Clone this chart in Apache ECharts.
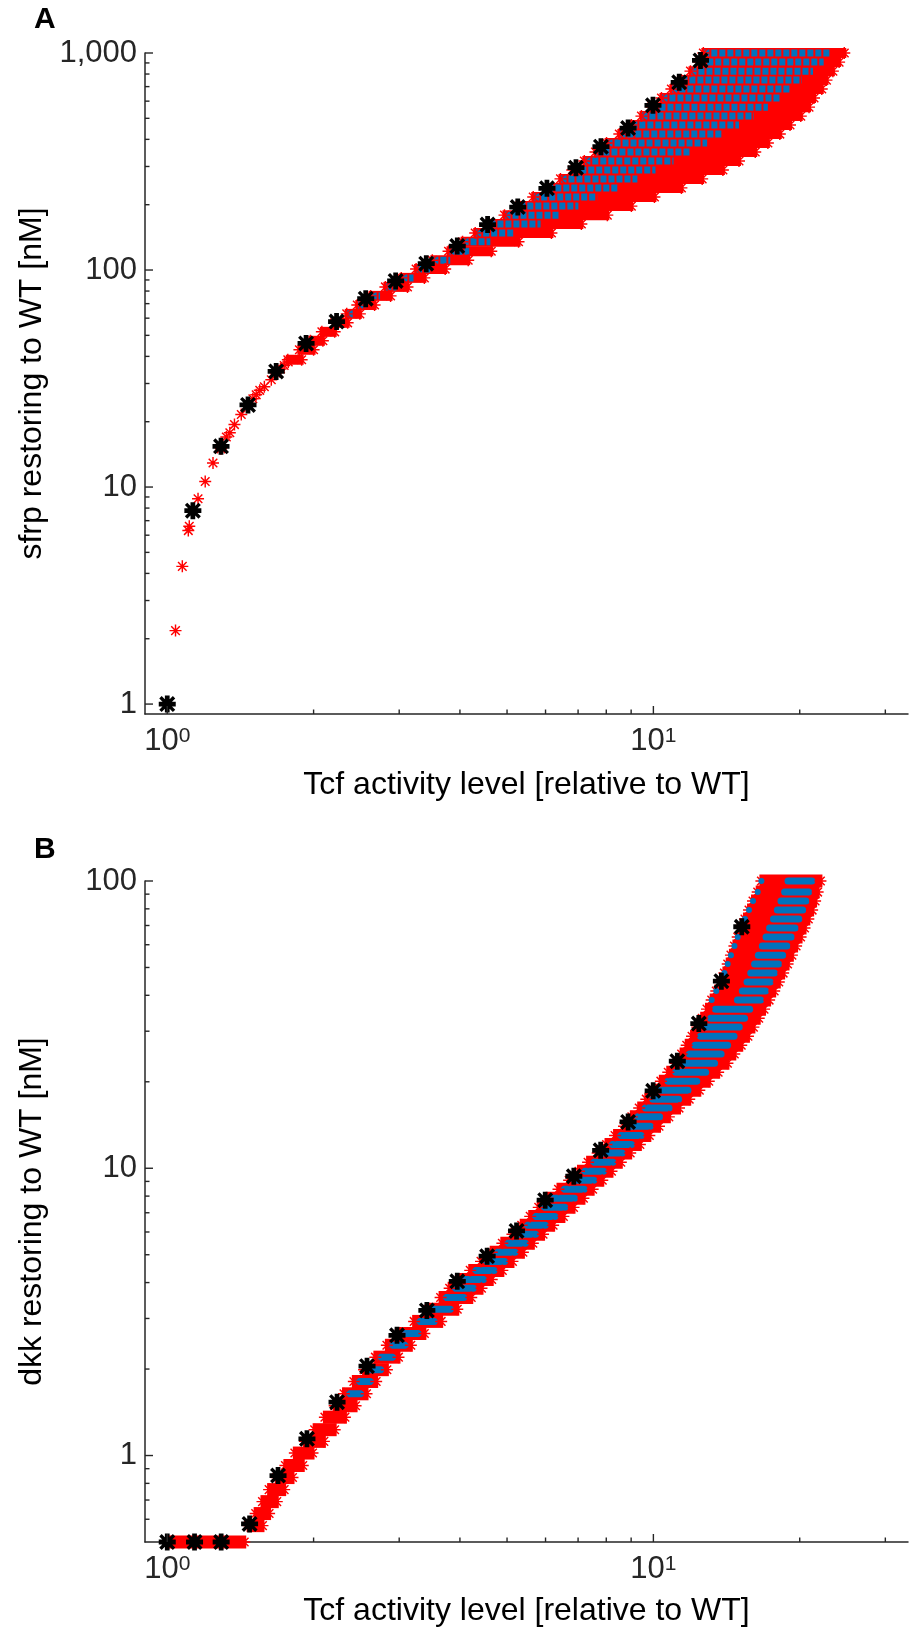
<!DOCTYPE html>
<html><head><meta charset="utf-8">
<script src="https://cdn.jsdelivr.net/npm/echarts@6/dist/echarts.min.js"></script>
<style>html,body{margin:0;padding:0;background:#fff}#c{width:911px;height:1633px}</style>
</head><body><div id="c"></div>
<script>
// ---------------- Panel A (sfrp) ----------------
const aBlackX = [1.0, 1.129, 1.29, 1.466, 1.675, 1.93, 2.23, 2.56, 2.95, 3.41, 3.95, 4.56, 5.26, 6.04, 6.93, 7.80, 8.87, 9.98, 11.3, 12.5];
const aBlackY = [1.0, 7.78, 15.4, 23.9, 34.1, 45.9, 57.9, 73.8, 89.1, 107, 129, 162, 195, 238, 296, 370, 451, 574, 733, 924];
const aLowX = [1.04, 1.074, 1.105, 1.11, 1.157, 1.197, 1.242, 1.29, 1.323, 1.345, 1.375, 1.42, 1.466, 1.50, 1.524, 1.55, 1.584, 1.637, 1.675, 1.71, 1.74, 1.774];
const aLowY = [2.18, 4.31, 6.3, 6.6, 8.83, 10.6, 12.9, 15.0, 17.0, 17.8, 19.4, 21.6, 24.2, 25.5, 26.6, 27.9, 29.0, 31.2, 33.5, 35.0, 36.3, 37.7];
const aRowY = [1000, 908, 825, 750, 682, 620, 563, 512, 466, 423, 385, 350, 318, 289, 263, 239, 217, 197, 179, 163, 148, 135, 122, 111, 101, 92, 83.6, 76, 69, 62.8, 57.1, 51.9, 47.2, 42.9, 38.6];
const aRowLeft = [12.67, 12.43, 11.92, 11.42, 10.89, 10.39, 9.91, 9.45, 9.01, 8.51, 8.01, 7.60, 7.21, 6.81, 6.44, 6.05, 5.66, 5.30, 4.94, 4.60, 4.30, 4.05, 3.79, 3.51, 3.25, 3.03, 2.81, 2.62, 2.46, 2.34, 2.21, 2.08, 1.97, 1.87, 1.77];
const aRowRight = [24.7, 24.1, 23.4, 22.7, 22.2, 21.4, 20.9, 20.1, 19.1, 18.2, 17.2, 16.2, 15.0, 13.9, 12.6, 11.42, 10.05, 9.01, 8.04, 7.11, 6.17, 5.28, 4.64, 4.16, 3.73, 3.38, 3.12, 2.88, 2.67, 2.49, 2.35, 2.21, 2.09, 2.00, 1.89];
const aRowBlueEnd = [23.2, 22.4, 21.3, 20.2, 19.2, 18.2, 17.2, 16.1, 15.0, 13.9, 12.9, 11.97, 11.0, 10.1, 9.27, 8.47, 7.67, 7.01, 6.41, 5.86, 5.15, 4.62, 4.18, 3.82, 3.49, 3.21, 2.96, 2.74, 2.56, 2.41, null, null, null, null, null];

// ---------------- Panel B (dkk) ----------------
const bBlackX = [1.0, 1.138, 1.291, 1.477, 1.69, 1.938, 2.235, 2.576, 2.969, 3.42, 3.95, 4.55, 5.23, 5.99, 6.86, 7.79, 8.87, 9.99, 11.2, 12.4, 13.8, 15.2];
const bBlackY = [0.5, 0.5, 0.5, 0.578, 0.852, 1.143, 1.534, 2.047, 2.62, 3.20, 4.04, 4.94, 6.05, 7.74, 9.38, 11.55, 14.5, 18.6, 23.6, 31.9, 44.8, 69.3];
const bRowY = [100, 91.5, 85.2, 79.2, 73.7, 68.6, 63.8, 59.4, 55.2, 51.4, 47.8, 44.5, 41.4, 38.5, 35.8, 33.3, 31.0, 28.8, 26.8, 25.0, 23.2, 21.6, 20.1, 18.7, 17.4, 16.2, 15.1, 14.0, 13.0, 12.1, 11.3, 10.5, 9.76, 9.08, 8.45, 7.86, 7.31, 6.80, 6.33, 5.89, 5.48, 5.10, 4.74, 4.41, 4.10, 3.82, 3.55, 3.23, 2.93, 2.66, 2.42, 2.20, 1.99, 1.81, 1.64, 1.49, 1.36, 1.23, 1.12, 1.02, 0.923, 0.838, 0.761, 0.691, 0.628, 0.570, 0.5];
const bRowLeft = [16.68, 16.39, 16.03, 15.73, 15.43, 15.14, 14.91, 14.68, 14.44, 14.22, 14.00, 13.77, 13.47, 13.18, 12.89, 12.60, 12.31, 12.01, 11.71, 11.43, 11.12, 10.73, 10.36, 10.00, 9.67, 9.35, 9.03, 8.70, 8.34, 8.01, 7.68, 7.34, 7.03, 6.71, 6.38, 6.06, 5.81, 5.58, 5.36, 5.13, 4.89, 4.65, 4.42, 4.20, 3.99, 3.81, 3.65, 3.44, 3.22, 3.00, 2.83, 2.68, 2.54, 2.42, 2.31, 2.21, 2.11, 2.01, 1.92, 1.83, 1.75, 1.68, 1.62, 1.57, 1.52, 1.47, 1.00];
const bRowRight = [22.06, 21.77, 21.51, 21.21, 20.83, 20.46, 20.08, 19.66, 19.27, 18.88, 18.49, 18.11, 17.72, 17.30, 16.89, 16.47, 16.06, 15.65, 15.16, 14.67, 14.20, 13.59, 13.00, 12.43, 11.85, 11.29, 10.76, 10.27, 9.81, 9.38, 8.96, 8.57, 8.20, 7.85, 7.50, 7.18, 6.85, 6.53, 6.22, 5.93, 5.65, 5.39, 5.13, 4.89, 4.65, 4.43, 4.22, 3.95, 3.66, 3.38, 3.17, 2.99, 2.83, 2.69, 2.57, 2.44, 2.32, 2.21, 2.10, 1.99, 1.90, 1.81, 1.74, 1.68, 1.62, 1.57, 1.44];
const bBlueStart = [18.92, 18.62, 18.30, 17.99, 17.66, 17.34, 17.05, 16.75, 16.44, 16.15, 15.86, 15.58, 15.24, 14.89, 13.42, 13.12, 12.81, 12.50, 12.18, 11.86, 11.53, 11.12, 10.72, 10.34, 9.97, 9.61, 9.27, 8.92, 8.55, 8.20, 7.86, 7.51, 7.19, 6.87, 6.54, 6.22, 5.96, 5.71, 5.48, 5.25, 4.99, 4.75, 4.52, 4.30, 4.08, 3.90, 3.73, 3.51, 3.28, 3.06, 2.88, 2.73, 2.58, 2.46, 2.35, null, null, null, null, null, null, null, null, null, null, null, null];
const bBlueEnd = [21.17, 20.86, 20.59, 20.28, 19.92, 19.56, 19.20, 18.82, 18.45, 18.09, 17.73, 17.38, 17.00, 16.61, 15.78, 15.40, 15.02, 14.65, 14.21, 13.78, 13.36, 12.81, 12.28, 11.78, 11.27, 10.77, 10.30, 9.85, 9.43, 9.01, 8.62, 8.25, 7.89, 7.54, 7.20, 6.88, 6.57, 6.27, 5.99, 5.72, 5.45, 5.19, 4.94, 4.70, 4.47, 4.26, 4.07, 3.82, 3.54, 3.28, 3.09, 2.91, 2.75, 2.62, 2.50, null, null, null, null, null, null, null, null, null, null, null, null];

// ---------------- Axis ticks ----------------
const xMajorTicks = [1, 10];
const xMinorTicks = [2, 3, 4, 5, 6, 7, 8, 9, 20, 30];
const aYMajorTicks = [1, 10, 100, 1000];
const aYMinorTicks = [2, 3, 4, 5, 6, 7, 8, 9, 20, 30, 40, 50, 60, 70, 80, 90, 200, 300, 400, 500, 600, 700, 800, 900];
const bYMajorTicks = [1, 10, 100];
const bYMinorTicks = [0.6, 0.7, 0.8, 0.9, 2, 3, 4, 5, 6, 7, 8, 9, 20, 30, 40, 50, 60, 70, 80, 90];

const FONT = '"Liberation Sans", Arial, Helvetica, sans-serif';
const AX = '#262626';
const RED = '#ff0000';
const BLUE = '#0072bd';
const STAR = 'path://M4.4,0L5.6,0L5.6,10L4.4,10Z M0,4.4L10,4.4L10,5.6L0,5.6Z M1,1.85L1.85,1L9,8.15L8.15,9Z M8.15,1L9,1.85L1.85,9L1,8.15Z';
const BSTAR = 'path://M3.6,0L6.4,0L6.4,10L3.6,10Z M0,3.6L10,3.6L10,6.4L0,6.4Z M0.3,1.7L1.7,0.3L9.7,8.3L8.3,9.7Z M8.3,0.3L9.7,1.7L1.7,9.7L0.3,8.3Z';

function isDecade(v) { const l = Math.log10(v); return Math.abs(l - Math.round(l)) < 1e-6; }
function yFmt(v) { if (!isDecade(v)) return ''; return Math.round(v).toString().replace(/\B(?=(\d{3})+(?!\d))/g, ','); }
function xFmt(v) { if (!isDecade(v)) return ''; return '{b|10}{s|' + Math.round(Math.log10(v)) + '}'; }

function xAxisDef(g) {
  return {
    gridIndex: g, type: 'log', logBase: 10, min: 0.9, max: 33.4,
    axisLine: { show: true, onZero: false, lineStyle: { color: AX, width: 1.5 } },
    axisTick: { show: false }, minorTick: { show: false }, splitLine: { show: false }, minorSplitLine: { show: false },
    axisLabel: {
      margin: 12, formatter: xFmt, color: AX,
      rich: { b: { fontSize: 31, fontFamily: FONT, color: AX }, s: { fontSize: 21, fontFamily: FONT, color: AX, verticalAlign: 'top' } }
    },
    name: 'Tcf activity level [relative to WT]', nameLocation: 'middle', nameGap: g === 0 ? 55 : 53,
    nameMoveOverlap: false,
    nameTextStyle: { fontFamily: FONT, fontSize: 32, color: '#000' }
  };
}
function yAxisDef(g, min, max, name) {
  return {
    gridIndex: g, type: 'log', logBase: 10, min: min, max: max,
    axisLine: { show: true, onZero: false, lineStyle: { color: AX, width: 1.5 } },
    axisTick: { show: false }, minorTick: { show: false }, splitLine: { show: false }, minorSplitLine: { show: false },
    axisLabel: { margin: 8, formatter: yFmt, fontSize: 31, fontFamily: FONT, color: AX },
    name: name, nameLocation: 'middle', nameGap: 97, nameMoveOverlap: false,
    nameTextStyle: { fontFamily: FONT, fontSize: 32, color: '#000' }
  };
}

function xTicks(g, vals, len) {
  return {
    type: 'custom', xAxisIndex: g, yAxisIndex: g, silent: true, z: 20, clip: false,
    data: vals.map(v => [v, 1]),
    renderItem: (p, api) => {
      const cs = p.coordSys; const x = api.coord([api.value(0), 1])[0]; const yb = cs.y + cs.height;
      return { type: 'line', shape: { x1: x, y1: yb, x2: x, y2: yb - len }, style: { stroke: AX, lineWidth: 1.4 } };
    }
  };
}
function yTicks(g, vals, len) {
  return {
    type: 'custom', xAxisIndex: g, yAxisIndex: g, silent: true, z: 20, clip: false,
    data: vals.map(v => [1, v]),
    renderItem: (p, api) => {
      const cs = p.coordSys; const y = api.coord([1, api.value(1)])[1]; const xl = cs.x;
      return { type: 'line', shape: { x1: xl, y1: y, x2: xl + len, y2: y }, style: { stroke: AX, lineWidth: 1.4 } };
    }
  };
}
function redRows(g, ys, lefts, rights, h) {
  return {
    type: 'custom', xAxisIndex: g, yAxisIndex: g, silent: true, z: 2, clip: false,
    data: ys.map((y, i) => [lefts[i], y, rights[i]]),
    encode: { x: [0, 2], y: 1 },
    renderItem: (p, api) => {
      const a = api.coord([api.value(0), api.value(1)]); const b = api.coord([api.value(2), api.value(1)]);
      return { type: 'rect', shape: { x: a[0] - 2, y: a[1] - h / 2, width: b[0] - a[0] + 4, height: h }, style: { fill: RED } };
    }
  };
}
function blueRows(g, ys, starts, ends, w, dash) {
  const d = [];
  ys.forEach((y, i) => { if (starts[i] != null && ends[i] != null) d.push([starts[i], y, ends[i]]); });
  return {
    type: 'custom', xAxisIndex: g, yAxisIndex: g, silent: true, z: 3, clip: false,
    data: d, encode: { x: [0, 2], y: 1 },
    renderItem: (p, api) => {
      const a = api.coord([api.value(0), api.value(1)]); const b = api.coord([api.value(2), api.value(1)]);
      return { type: 'line', shape: { x1: a[0], y1: a[1], x2: b[0], y2: b[1] }, style: { stroke: BLUE, lineWidth: w, lineDash: dash, lineCap: dash ? 'butt' : 'round' } };
    }
  };
}
function scatter(g, data, symbol, size, color, z) {
  return { type: 'scatter', xAxisIndex: g, yAxisIndex: g, data: data, symbol: symbol, symbolSize: size, itemStyle: { color: color, opacity: 1 }, z: z, silent: true, clip: false };
}
function rowEnds(ys, lefts, rights) {
  const d = [];
  ys.forEach((y, i) => { d.push([lefts[i], y]); d.push([rights[i], y]); });
  return d;
}

const chart = echarts.init(document.getElementById('c'), null, { renderer: 'canvas' });
chart.setOption({
  animation: false,
  backgroundColor: '#fff',
  textStyle: { fontFamily: FONT },
  grid: [
    { left: 145, top: 53, width: 763, height: 661, outerBoundsMode: 'none', containLabel: false },
    { left: 145, top: 881, width: 763, height: 661, outerBoundsMode: 'none', containLabel: false }
  ],
  xAxis: [xAxisDef(0), xAxisDef(1)],
  yAxis: [yAxisDef(0, 0.9, 1000, 'sfrp restoring to WT [nM]'), yAxisDef(1, 0.5, 100, 'dkk restoring to WT [nM]')],
  graphic: [
    { type: 'text', left: 34, top: 5, style: { text: 'A', font: 'bold 30px ' + FONT, fill: '#000' } },
    { type: 'text', left: 34, top: 835, style: { text: 'B', font: 'bold 30px ' + FONT, fill: '#000' } }
  ],
  series: [
    // Panel A
    redRows(0, aRowY, aRowLeft, aRowRight, 10),
    blueRows(0, aRowY, aRowLeft, aRowBlueEnd, 7, [6, 2]),
    scatter(0, rowEnds(aRowY, aRowLeft, aRowRight), STAR, 12, RED, 4),
    scatter(0, aLowX.map((x, i) => [x, aLowY[i]]), STAR, 12, RED, 4),
    scatter(0, aBlackX.map((x, i) => [x, aBlackY[i]]), BSTAR, 17, '#000', 6),
    xTicks(0, xMajorTicks, 8), xTicks(0, xMinorTicks, 4.5),
    yTicks(0, aYMajorTicks, 8), yTicks(0, aYMinorTicks, 4.5),
    // Panel B
    redRows(1, bRowY, bRowLeft, bRowRight, 13),
    blueRows(1, bRowY, bBlueStart, bBlueEnd, 7, null),
    scatter(1, rowEnds(bRowY, bRowLeft, bRowRight), STAR, 12, RED, 4),
    scatter(1, bRowLeft.slice(0, 14).map((x, i) => [x, bRowY[i]]), 'circle', 6, BLUE, 5),
    scatter(1, bBlackX.map((x, i) => [x, bBlackY[i]]), BSTAR, 17, '#000', 6),
    xTicks(1, xMajorTicks, 8), xTicks(1, xMinorTicks, 4.5),
    yTicks(1, bYMajorTicks, 8), yTicks(1, bYMinorTicks, 4.5)
  ]
});
</script>
</body></html>
